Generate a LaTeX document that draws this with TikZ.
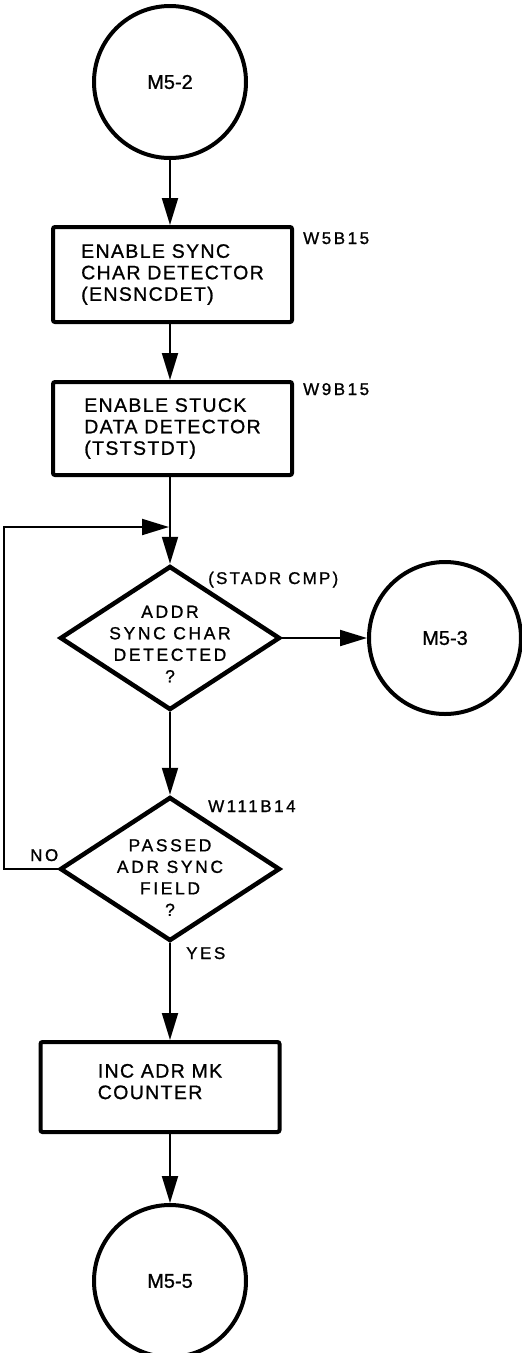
\documentclass[tikz,border=0pt]{standalone}
\usepackage{fontspec}
\setmainfont{Liberation Sans}[FakeBold=1]
\newfontfamily\boxfont{Liberation Sans}[LetterSpace=7,FakeBold=1]
\newfontfamily\tagfont{Liberation Sans}[LetterSpace=15,FakeBold=1]
\newfontfamily\askfont{Liberation Sans}[LetterSpace=15,FakeBold=1]
\newfontfamily\pinfont{Liberation Sans}[LetterSpace=13,FakeBold=1]
\usetikzlibrary{shapes.geometric,arrows.meta}

\tikzset{
  connector/.style={line width=2pt, -{Triangle[length=27pt,width=16pt]}},
  wire/.style={line width=2pt},
  terminal/.style={circle, draw, line width=4pt, minimum size=152pt, inner sep=0pt,
    font=\fontsize{20}{24}\selectfont},
  process/.style={rectangle, draw, line width=4pt, rounded corners=2pt,
    minimum width=239pt, align=left, inner sep=0pt,
    font=\boxfont\fontsize{19.5}{21.5}\selectfont},
  decision/.style={diamond, draw, line width=4.5pt, minimum width=220pt,
    minimum height=144pt, inner sep=0pt},
  asktext/.style={align=center, inner sep=0pt,
    font=\askfont\fontsize{17.5}{21.5}\selectfont},
  note/.style={anchor=base west, inner sep=0pt, font=\tagfont\fontsize{17}{20}\selectfont}
}

\begin{document}
\begin{tikzpicture}[x=1pt,y=-1pt]
\useasboundingbox (0,0) rectangle (522,1353);

% flow blocks
\node[terminal] (m52) at (170,82) {M5-2};
\node[process, minimum height=95pt] (b1) at (172.5,274.5)
  {ENABLE SYNC\\CHAR DETECTOR\\(ENSNCDET)};
\node[process, minimum height=93pt] (b2) at (172.5,428.5)
  {ENABLE STUCK\\DATA DETECTOR\\(TSTSTDT)};
\node[decision] (d1) at (170,638) {};
\node[asktext] (d1t) at ([yshift=-6pt]d1.center)
  {ADDR\\SYNC CHAR\\DETECTED\\?};
\node[terminal] (m53) at (445,638) {M5-3};
\node[decision] (d2) at (170,869) {};
\node[asktext] (d2t) at ([yshift=-8.5pt]d2.center)
  {PASSED\\ADR SYNC\\FIELD\\?};
\node[process, minimum height=90pt, text depth=11pt] (b3) at (160,1087)
  {INC ADR MK\\COUNTER};
\node[terminal] (m55) at (170,1281) {M5-5};

% side labels
\node[note] (t1) at (303,244) {W5B15};
\node[note] (t2) at (303,395) {W9B15};
\node[note, font=\pinfont\fontsize{17}{20}\selectfont] (t3) at (208,584) {(STADR CMP)};
\node[note] (t4) at (208,812) {W111B14};
\node[note] (t5) at (30,861) {NO};
\node[note] (t6) at (186,959) {YES};

% connectors
\coordinate (j) at (170,527);
\draw[connector] (m52.south) -- (m52.south |- b1.north);
\draw[connector] (b1.south -| m52) -- (b2.north -| m52);
\draw[wire] (b2.south -| d1) -- (j);
\draw[connector] (j) -- (d1.north);
\draw[connector] (d1.east) -- (m53.west);
\draw[connector] (d1.south) -- (d2.north);
\draw[connector, shorten >=1pt] (d2.west) -- ++(-54,0) |- (j);
\draw[connector] (d2.south) -- (d2.south |- b3.north);
\draw[connector] (m55.north |- b3.south) -- (m55.north);
\end{tikzpicture}
\end{document}
